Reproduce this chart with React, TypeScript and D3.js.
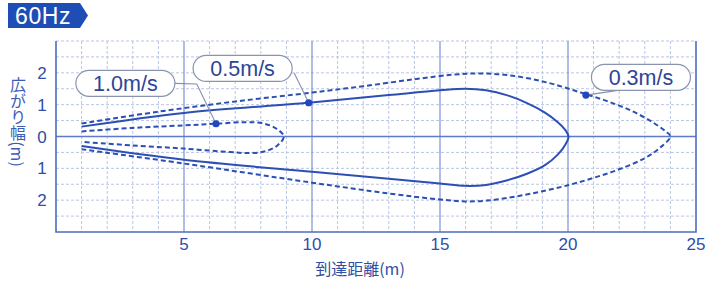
import React from 'react'
import * as d3 from 'd3'

// reach (m) vs spread (m), upper edge runs left→tip, lower edge runs left→tip
const upper03 = [[1, 0.41], [4, 0.78], [7, 1.1], [10, 1.38], [12, 1.58], [14, 1.8], [15.5, 1.94], [16.5, 1.98], [17.5, 1.94], [18.5, 1.82], [19.5, 1.63], [20.5, 1.38], [21.5, 1.12], [22.5, 0.8], [23.3, 0.45], [23.8, 0.17], [24, 0]]
const lower03 = [[1, -0.4], [5, -0.85], [10, -1.45], [13, -1.79], [15, -1.98], [16, -2.04], [17, -2.0], [18, -1.88], [19, -1.72], [20, -1.53], [21, -1.3], [22, -1.03], [23, -0.68], [23.6, -0.35], [24, 0]]
const upper05 = [[1, 0.31], [5, 0.74], [9.87, 1.06], [13, 1.3], [15, 1.45], [16, 1.5], [16.8, 1.45], [17.6, 1.3], [18.4, 1.05], [19.1, 0.75], [19.6, 0.45], [19.9, 0.2], [20.02, 0]]
const lower05 = [[1, -0.3], [5, -0.73], [10, -1.11], [13, -1.33], [15, -1.48], [16, -1.55], [16.8, -1.52], [17.6, -1.38], [18.4, -1.17], [19.1, -0.9], [19.6, -0.57], [19.9, -0.25], [20.02, 0]]
const upper10 = [[1, 0.16], [3, 0.27], [5, 0.35], [6.25, 0.4], [7.4, 0.45], [8.1, 0.41], [8.6, 0.25], [8.9, 0]]
const lower10 = [[1, -0.17], [3, -0.28], [5, -0.38], [6.8, -0.49], [7.6, -0.52], [8.2, -0.46], [8.65, -0.28], [8.9, 0]]

const speeds = ['0.3m/s', '0.5m/s', '1.0m/s']
const dashed = [true, false, true]
const markers = [[20.7, 1.3], [9.87, 1.06], [6.25, 0.4]]
// label box centres and leader bends, in data units
const boxes = [[22.85, 1.86], [7.29, 2.14], [2.71, 1.67]]
const leaders = [
  [[22.8, 1.55], [20.7, 1.3]],
  [[9.3, 2.0], [9.87, 1.06]],
  [[4.65, 1.67], [5.5, 1.65], [6.25, 0.4]],
]

const xTicks = [5, 10, 15, 20, 25]
const yTicks = [2, 1, 0, -1, -2]

const W = 722
const H = 281
const blue = '#2c4fb4'
const textBlue = '#2f4ea6'

export default function App() {
  const x = d3.scaleLinear().domain([0, 25]).range([56, 696])
  const y = d3.scaleLinear().domain([-3, 3]).range([232, 41])

  const line = d3
    .line<number[]>()
    .x((d) => x(d[0]))
    .y((d) => y(d[1]))
    .curve(d3.curveCatmullRom.alpha(0.5))

  const shapes = [
    [upper03, lower03],
    [upper05, lower05],
    [upper10, lower10],
  ].map(([u, l]) => [...u, ...l.slice(0, -1).reverse()])

  const minorX = d3.range(1, 25).filter((v) => v % 5 !== 0)
  const minorY = d3.range(-2.5, 3.01, 0.5).filter((v) => Math.abs(v) > 0.01)
  const boxW = 99
  const boxH = 26

  return (
    <svg
      width={W}
      height={H}
      style={{ position: 'absolute', left: 0, top: 0, background: '#fff' }}
    >
      {/* header tag */}
      <path d="M8,3 H80 L88,15.5 L80,28 H8 Z" fill="#1d4db5" />
      <text x={15} y={24} fill="#fff" fontFamily="'Liberation Sans', Arial, sans-serif" fontSize={23} letterSpacing={0.6}>
        60Hz
      </text>

      {/* grid */}
      {minorX.map((v) => (
        <line key={'gx' + v} x1={x(v)} x2={x(v)} y1={y(3)} y2={y(-3)} stroke="#b9c5e4" strokeWidth={1} strokeDasharray="3,2" />
      ))}
      {minorY.map((v) => (
        <line key={'gy' + v} x1={x(0)} x2={x(25)} y1={y(v)} y2={y(v)} stroke="#b9c5e4" strokeWidth={1} strokeDasharray="3,2" />
      ))}
      {xTicks.slice(0, -1).map((v) => (
        <line key={'mx' + v} x1={x(v)} x2={x(v)} y1={y(3)} y2={y(-3)} stroke="#7b93d4" strokeWidth={1.2} />
      ))}
      <line x1={x(0)} x2={x(25)} y1={y(0)} y2={y(0)} stroke="#5d7acb" strokeWidth={1.4} />
      <path
        d={`M${x(0)},${y(3)} V${y(-3)} H${x(25)} V${y(3)}`}
        fill="none"
        stroke="#4e6cc4"
        strokeWidth={1.6}
      />

      {/* tick labels */}
      {xTicks.map((v) => (
        <text key={'tx' + v} x={x(v)} y={250} textAnchor="middle" fill={textBlue} fontFamily="'Liberation Sans', Arial, sans-serif" fontSize={17}>
          {v}
        </text>
      ))}
      {yTicks.map((v) => (
        <text key={'ty' + v} x={42} y={y(v)} dy="0.36em" textAnchor="middle" fill={textBlue} fontFamily="'Liberation Sans', Arial, sans-serif" fontSize={17}>
          {Math.abs(v)}
        </text>
      ))}
      <text x={360} y={275} textAnchor="middle" fill={textBlue} fontFamily="'Noto Sans CJK JP', sans-serif" fontSize={16}>
        到達距離(m)
      </text>
      <text
        x={18}
        y={122}
        textAnchor="middle"
        fill="#3d5cb5"
        fontFamily="'Noto Sans CJK JP', sans-serif"
        fontSize={16}
        style={{ writingMode: 'vertical-rl' }}
      >
        広がり幅(m)
      </text>

      {/* curves */}
      {shapes.map((pts, i) => (
        <path
          key={speeds[i]}
          d={line(pts) ?? ''}
          fill="none"
          stroke={blue}
          strokeWidth={2}
          strokeDasharray={dashed[i] ? '5,3' : undefined}
        />
      ))}

      {/* callouts */}
      {speeds.map((s, i) => {
        const cx = x(boxes[i][0])
        const cy = y(boxes[i][1])
        const pts = leaders[i].map((p) => [x(p[0]), y(p[1])])
        return (
          <g key={'lab' + s}>
            <polyline points={pts.map((p) => p.join(',')).join(' ')} fill="none" stroke="#8790ac" strokeWidth={1.1} />
            <rect x={cx - boxW / 2} y={cy - boxH / 2} width={boxW} height={boxH} rx={13} fill="#fff" stroke="#8a93b0" strokeWidth={1.2} />
            <text x={cx} y={cy} dy="0.36em" textAnchor="middle" fill="#2b4697" fontFamily="'Liberation Sans', Arial, sans-serif" fontSize={21.5}>
              {s}
            </text>
            <circle cx={x(markers[i][0])} cy={y(markers[i][1])} r={3.6} fill="#1f47c0" />
          </g>
        )
      })}
    </svg>
  )
}
